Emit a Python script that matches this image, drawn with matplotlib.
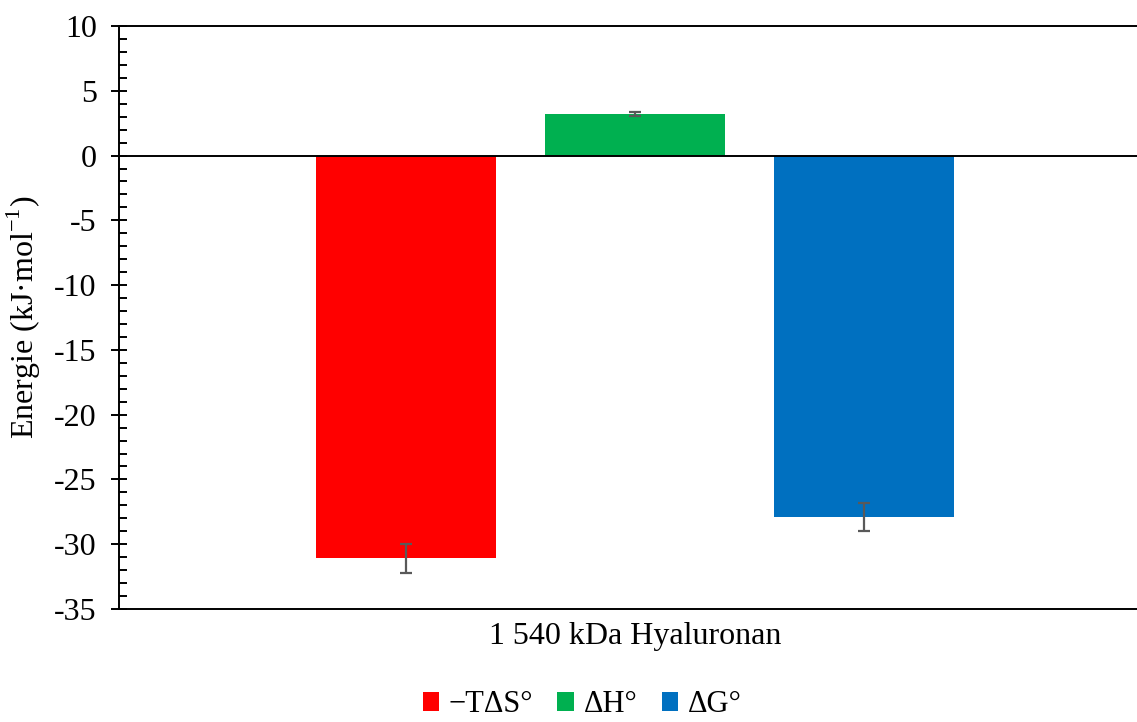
import matplotlib.pyplot as plt
from matplotlib.ticker import MultipleLocator

plt.rcParams['font.family'] = ['Liberation Serif', 'DejaVu Serif']
plt.rcParams['mathtext.fontset'] = 'custom'
plt.rcParams['mathtext.rm'] = 'Liberation Serif'
plt.rcParams['axes.unicode_minus'] = False

categoria = '1 540 kDa Hyaluronan'
series = ['\u2212T\u0394S\u00b0', '\u0394H\u00b0', '\u0394G\u00b0']
valores = [-31.1, 3.2, -27.9]
errores = [1.1, 0.15, 1.1]
colores = ['#ff0000', '#00b050', '#0070c0']
desplaz = [-0.222, 0.0, 0.222]

fig = plt.figure(figsize=(11.37, 7.22), dpi=100)
ax = fig.add_axes([0.1047, 0.1565, 0.9077, 0.8075])

for i in range(len(series)):
    ax.bar(desplaz[i], valores[i], width=0.175, color=colores[i], label=series[i], zorder=2)
    ax.errorbar(desplaz[i], valores[i], yerr=errores[i], fmt='none', ecolor='#595959',
                elinewidth=1.6, capsize=4.5, capthick=1.6, zorder=3)

ax.axhline(0, color='black', lw=1.4, zorder=4)
ax.set_xlim(-0.5, 0.5)
ax.set_ylim(-35, 10)
ax.yaxis.set_major_locator(MultipleLocator(5))
ax.yaxis.set_minor_locator(MultipleLocator(1))
ax.tick_params(axis='y', which='major', direction='inout', length=12, width=1.4, labelsize=23, pad=10)
ax.tick_params(axis='y', which='minor', direction='in', length=6, width=1.4)
ax.set_xticks([0])
ax.set_xticklabels([categoria], fontsize=23)
ax.tick_params(axis='x', length=0, pad=9)
for s in ['top', 'bottom', 'left', 'right']:
    ax.spines[s].set_linewidth(1.4)
ax.spines['right'].set_visible(False)

ax.set_ylabel('Energie (kJ\u00b7mol$^{\u22121}$)', fontsize=23, labelpad=8)

fig.legend(loc='center', bbox_to_anchor=(582 / 1137, 1 - 705 / 722), ncol=3, frameon=False,
           fontsize=22, handlelength=0.55, handleheight=0.55, handletextpad=0.3, columnspacing=0.8,
           borderpad=0.1)

fig.savefig('out.png', dpi=100)
